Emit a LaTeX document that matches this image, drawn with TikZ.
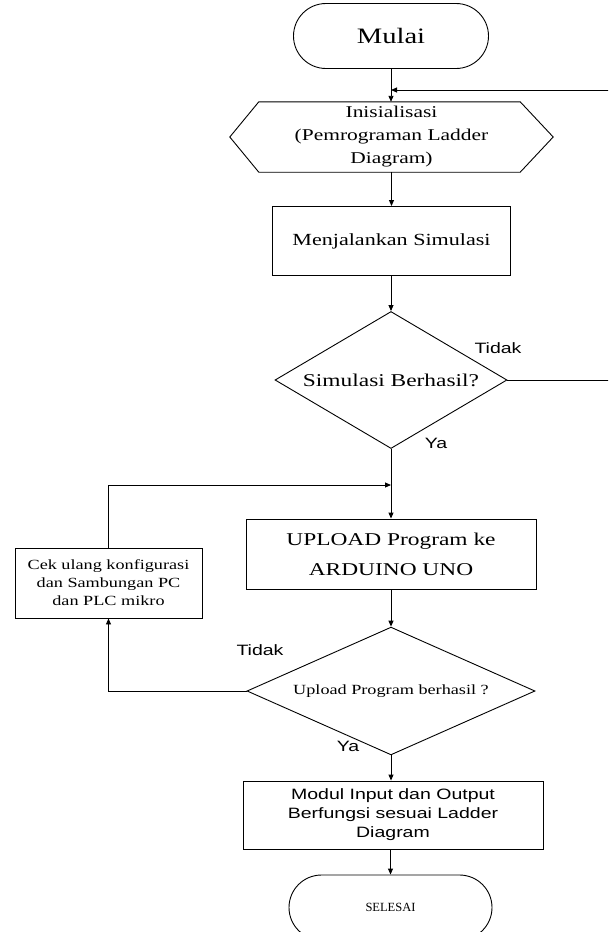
\documentclass[tikz,border=0pt]{standalone}
\usepackage{fontspec}
\setmainfont[FakeStretch=1.3]{Liberation Serif}
\setsansfont[FakeStretch=1.3]{Liberation Sans}
\newfontfamily\plainserif{Liberation Serif}
\usetikzlibrary{shapes.geometric,shapes.misc,arrows.meta,calc}
\tikzset{
  base/.style={draw=black, line width=0.9pt, inner sep=0pt, align=center, font=\rmfamily\fontsize{17}{23}\selectfont},
  term/.style={base, rounded rectangle},
  box/.style={base, rectangle},
  dec/.style={base, diamond, aspect=1.7},
  arr/.style={line width=0.9pt, -{Triangle[length=6pt,width=5pt]}},
  lin/.style={line width=0.9pt},
  lbl/.style={font=\sffamily\fontsize{15}{18}\selectfont, inner sep=0pt}
}
\begin{document}
\begin{tikzpicture}[x=1pt,y=-1pt]
\useasboundingbox (0,0) rectangle (608,932);
\clip (0,0) rectangle (608,932);
% nodes
\node[term, minimum width=195pt, minimum height=65pt, font=\rmfamily\fontsize{22}{26}\selectfont] (start) at (391,36) {Mulai};
\node[inner sep=0pt, minimum width=323pt, minimum height=70pt, align=center, font=\rmfamily\fontsize{16.5}{23}\selectfont] (ini) at (391.5,137) {Inisialisasi\\(Pemrograman Ladder\\Diagram)};
\draw[lin] (ini.west) -- ([xshift=29pt]ini.north west) -- ([xshift=-33pt]ini.north east) -- (ini.east) -- ([xshift=-33pt]ini.south east) -- ([xshift=29pt]ini.south west) -- cycle;
\node[box, minimum width=238pt, minimum height=69pt] (sim) at (391.5,241) {Menjalankan Simulasi};
\node[dec, minimum width=232pt, minimum height=137pt, font=\rmfamily\fontsize{18}{22}\selectfont] (d1) at (391,380) {Simulasi Berhasil?};
\node[box, minimum width=290pt, minimum height=70pt, font=\rmfamily\fontsize{18}{30}\selectfont] (up) at (391,554) {UPLOAD Program ke\\ARDUINO UNO};
\node[box, minimum width=187pt, minimum height=70pt, font=\rmfamily\fontsize{14}{18}\selectfont] (cek) at (108.5,583) {Cek ulang konfigurasi\\dan Sambungan PC\\dan PLC mikro};
\node[dec, minimum width=288pt, minimum height=122pt, font=\rmfamily\fontsize{14}{18}\selectfont] (d2) at (391,691) {Upload Program berhasil ?};
\node[box, minimum width=300pt, minimum height=68pt, font=\sffamily\fontsize{15}{19}\selectfont] (mod) at (393,815) {Modul Input dan Output\\Berfungsi sesuai Ladder\\Diagram};
\node[term, minimum width=203pt, minimum height=65pt, font=\plainserif\fontsize{12.5}{14}\selectfont] (end) at (390.5,907.5) {SELESAI};
% helper coordinates
\coordinate (j1) at (391,90);
\coordinate (r1) at (612,90);
\coordinate (j2) at (391,485);
% labels
\node[lbl] (t1) at (498,348) {Tidak};
\node[lbl] (y1) at (436,443) {Ya};
\node[lbl] (t2) at (260,650) {Tidak};
\node[lbl] (y2) at (348,746) {Ya};
% connectors
\draw[arr] (start.south) -- (start.south |- ini.north);
\draw[arr] (d1.east) -| (r1) -- (j1);
\draw[arr] (ini.south -| sim.north) -- (sim.north);
\draw[arr] (sim.south -| d1.north) -- (d1.north);
\draw[arr] (d1.south) -- (up.north);
\draw[arr] (cek.north) |- (j2);
\draw[arr] (up.south) -- (d2.north);
\draw[arr] (d2.west) -| (cek.south);
\draw[arr] (d2.south) -- (d2.south |- mod.north);
\draw[arr] (end.north |- mod.south) -- (end.north);
\end{tikzpicture}
\end{document}
